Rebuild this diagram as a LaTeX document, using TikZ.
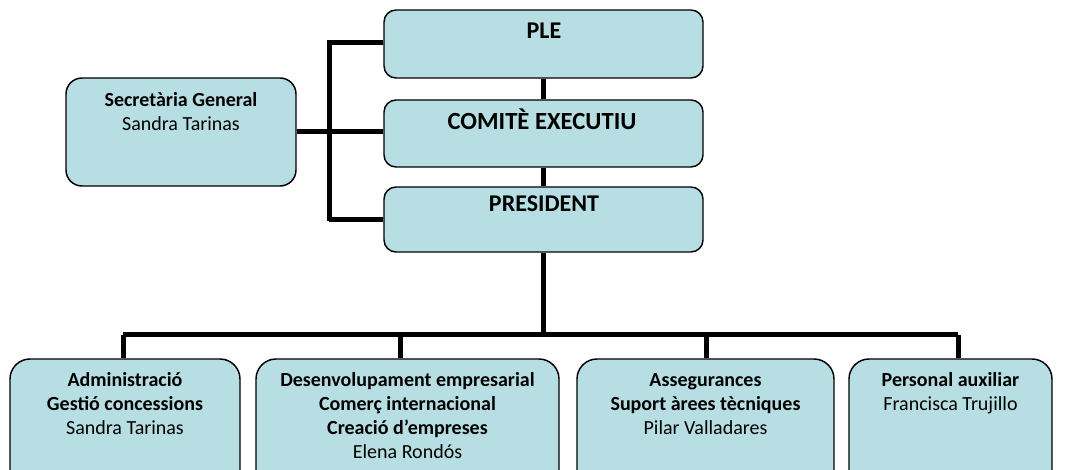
\documentclass[tikz,border=0pt]{standalone}
\usepackage{fontspec}
\setmainfont{Carlito}
\definecolor{boxfill}{RGB}{183,222,226}
\begin{document}
\begin{tikzpicture}[x=0.75pt,y=-0.75pt,
  box/.style={draw=black, line width=1.1pt, fill=boxfill, rounded corners=9pt, inner sep=0pt},
  bbox/.style={box, rounded corners=15pt},
  txt/.style={anchor=north, align=center, inner sep=0pt, font=\fontsize{15}{18}\selectfont},
  head/.style={anchor=base, inner sep=0pt, font=\fontsize{18}{20}\selectfont\bfseries},
  conn/.style={draw=black, line width=3.75pt}]
\path[use as bounding box] (0,0) rectangle (1065,470);
\clip (0,0) rectangle (1065,470);
% top column
\node[box, minimum width=239.25pt, minimum height=51pt] (ple) at (543.5,44) {};
\node[box, minimum width=239.25pt, minimum height=50.25pt] (com) at (543.5,133.5) {};
\node[box, minimum width=239.25pt, minimum height=48.75pt] (pres) at (543.5,219.5) {};
\node[box, rounded corners=12pt, minimum width=172.5pt, minimum height=81pt] (sec) at (181,132) {};
% bottom boxes
\node[bbox, minimum width=172.5pt, minimum height=98.25pt] (b1) at (125,424.5) {};
\node[bbox, minimum width=227.25pt, minimum height=98.25pt] (b2) at (407.5,424.5) {};
\node[bbox, minimum width=192.75pt, minimum height=98.25pt] (b3) at (705.5,424.5) {};
\node[bbox, minimum width=152.25pt, minimum height=98.25pt] (b4) at (950.5,424.5) {};
% texts
\node[head] (pleT) at (544,39) {PLE};
\node[head, font=\fontsize{18.5}{20}\selectfont\bfseries] (comT) at (542,130) {COMITÈ EXECUTIU};
\node[head] (presT) at (544,212) {PRESIDENT};
\node[txt] (secT) at (181,89.2) {\strut\textbf{Secretària General}\\Sandra Tarinas};
\node[txt] (b1T) at (125,369.2) {\strut\textbf{Administració}\\\textbf{Gestió concessions}\\Sandra Tarinas};
\node[txt] (b2T) at (407.5,369.2) {\strut\textbf{Desenvolupament empresarial}\\\textbf{Comerç internacional}\\\textbf{Creació d’empreses}\\Elena Rondós};
\node[txt] (b3T) at (705.5,369.2) {\strut\textbf{Assegurances}\\\textbf{Suport àrees tècniques}\\Pilar Valladares};
\node[txt] (b4T) at (950.5,369.2) {\strut\textbf{Personal auxiliar}\\Francisca Trujillo};
% connectors
\coordinate (brTop) at (329,40);
\coordinate (brBot) at (329,221);
\coordinate (bus) at (543.5,335);
\coordinate (d1) at (123,335);
\coordinate (d2) at (400,335);
\coordinate (d3) at (706,335);
\coordinate (d4) at (958,335);
\draw[conn] (ple.south) -- (com.north);
\draw[conn] (com.south) -- (pres.north);
\draw[conn] (pres.south) -- (bus);
\draw[conn] (ple.west |- 0,43) -- (brTop |- 0,43);
\draw[conn] (brTop) -- (brBot);
\draw[conn] (pres.west |- 0,220) -- (brBot |- 0,220);
\draw[conn] (sec.east |- 0,132) -- (com.west |- 0,132);
\draw[conn] (d1) -- (d4);
\draw[conn] (d1) -- (b1.north -| d1);
\draw[conn] (d2) -- (b2.north -| d2);
\draw[conn] (d3) -- (b3.north -| d3);
\draw[conn] (d4) -- (b4.north -| d4);
\end{tikzpicture}
\end{document}
